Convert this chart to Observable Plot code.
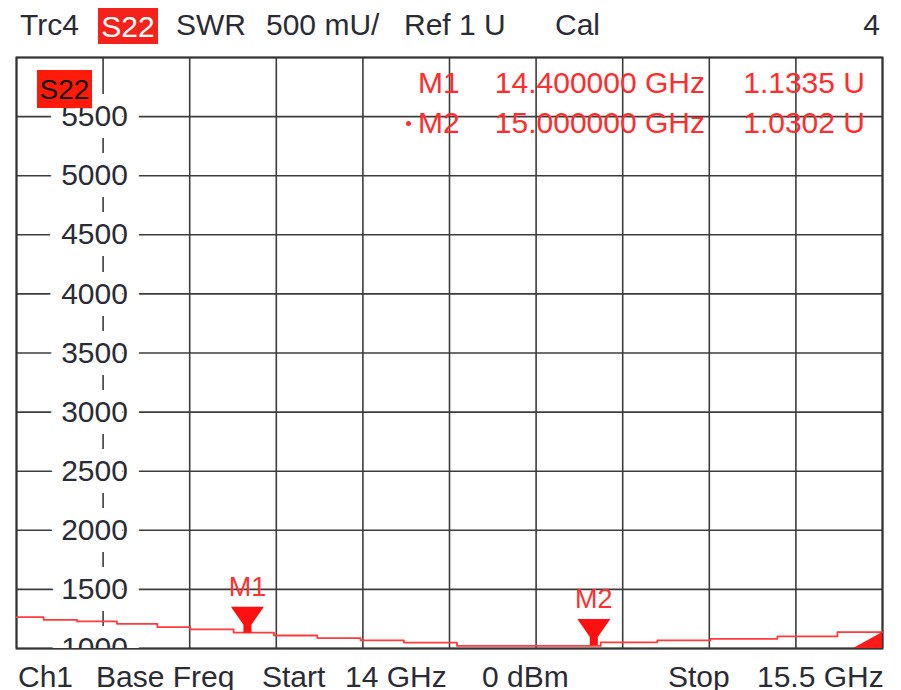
<!DOCTYPE html>
<html><head><meta charset="utf-8">
<script src="https://cdn.jsdelivr.net/npm/d3@7"></script>
<script src="https://cdn.jsdelivr.net/npm/@observablehq/plot@0.6"></script>
<style>
body{margin:0;background:#fff;}
#wrap{position:relative;width:901px;height:690px;overflow:hidden;font-family:"Liberation Sans",Arial,sans-serif;}
#wrap svg{position:absolute;left:0;top:0;}
.t{position:absolute;white-space:pre;line-height:1;font-size:30px;color:#2b2b36;}
.red{color:#ff2d2d;}
.box{position:absolute;line-height:1;white-space:pre;}
</style></head><body><div id="wrap"></div>
<script>
// Trace (stepped sweep), frequency in GHz, SWR in mU
const traceFreqGHz = [14.000, 14.047, 14.105, 14.174, 14.244, 14.301, 14.376, 14.446, 14.521, 14.596, 14.671, 14.763, 15.012, 15.110, 15.202, 15.318, 15.422, 15.500];
const traceSWRmU   = [1265,   1243,   1229,   1209,   1181,   1161,   1135,   1110,   1088,   1068,   1050,   1022,   1052,   1068,   1082,   1102,   1138,   1138];

// Markers
const markerNames = ["M1", "M2"];
const markerFreqGHz = [14.4, 15.0];
const markerSWRU = [1.1335, 1.0302];

// Axis / grid values
const yGridmU = [1000, 1500, 2000, 2500, 3000, 3500, 4000, 4500, 5000, 5500, 6000];
const yTickLabels = [1000, 1500, 2000, 2500, 3000, 3500, 4000, 4500, 5000, 5500];
const xGridGHz = [14.0, 14.15, 14.3, 14.45, 14.6, 14.75, 14.9, 15.05, 15.2, 15.35, 15.5];

// Reference-level indicator at right edge
const refArrowX = [15.45, 15.5];
const refArrowY = [1000, 1136];

// Header / footer texts
const headerTokens = [["Trc4", 20], ["SWR", 176], ["500 mU/", 266], ["Ref 1 U", 404], ["Cal", 555]];
const footerTokens = [["Ch1", 18], ["Base Freq", 96], ["Start", 262], ["14 GHz", 345], ["0 dBm", 482], ["Stop", 668], ["15.5 GHz", 757]];

const trace = traceFreqGHz.map((f, i) => ({f, v: traceSWRmU[i]}));
const markers = markerNames.map((n, i) => ({n, f: markerFreqGHz[i], v: markerSWRU[i] * 1000}));
const refArrow = refArrowX.map((f, i) => ({f, v: refArrowY[i]}));

const markerSymbol = {
  draw(ctx) {
    ctx.moveTo(-16.5, -26);
    ctx.lineTo(16.5, -26);
    ctx.lineTo(4, -8);
    ctx.lineTo(4, 0);
    ctx.lineTo(-4, 0);
    ctx.lineTo(-4, -8);
    ctx.closePath();
  }
};

const chart = Plot.plot({
  width: 901,
  height: 690,
  marginTop: 57,
  marginBottom: 42,
  marginLeft: 16,
  marginRight: 19,
  x: {domain: [14, 15.5], axis: null},
  y: {domain: [1000, 6000], axis: null},
  style: {background: "transparent", fontFamily: "Liberation Sans, Arial, sans-serif"},
  marks: [
    Plot.ruleX(xGridGHz, {stroke: "#3c3c3c", strokeWidth: 1.6}),
    Plot.ruleY(yGridmU, {stroke: "#3c3c3c", strokeWidth: 1.6}),
    Plot.frame({stroke: "#333", strokeWidth: 2}),
    Plot.text(yTickLabels, {
      y: d => d, text: d => String(d), frameAnchor: "left", dx: 78,
      textAnchor: "middle", fontSize: 30, fill: "#2b2b36",
      stroke: "white", strokeWidth: 24, strokeLinejoin: "round", clip: true
    }),
    Plot.line(trace, {x: "f", y: "v", curve: "step-after", stroke: "#ff3b3b", strokeWidth: 1.8}),
    Plot.areaY(refArrow, {x: "f", y1: 1000, y2: "v", fill: "#ff1a1a"}),
    Plot.dot(markers, {x: "f", y: "v", symbol: markerSymbol, fill: "#ff1010", stroke: "none"}),
    Plot.text(markers, {x: "f", y: "v", text: "n", dy: -37, lineAnchor: "bottom", fontSize: 27, fill: "#ff3030"})
  ]
});

const wrap = document.getElementById("wrap");
wrap.appendChild(chart);

function addText(txt, left, baseline, cls, right) {
  const el = document.createElement("div");
  el.className = "t " + (cls || "");
  el.textContent = txt;
  el.style.top = (baseline - 0.8465 * 30) + "px";
  if (right !== undefined) el.style.right = (901 - right) + "px";
  else el.style.left = left + "px";
  wrap.appendChild(el);
  return el;
}

// Header
headerTokens.forEach(([t, x]) => addText(t, x, 35));
addText("4", null, 35, "", 880);
const hbox = document.createElement("div");
hbox.className = "box";
Object.assign(hbox.style, {left: "98px", top: "8px", width: "60px", height: "36px", background: "#f5221b", color: "#fff", fontSize: "30px", textAlign: "center", lineHeight: "37px"});
hbox.textContent = "S22";
wrap.appendChild(hbox);

// Footer
footerTokens.forEach(([t, x]) => addText(t, x, 687));

// In-plot trace label
const pbox = document.createElement("div");
pbox.className = "box";
Object.assign(pbox.style, {left: "37px", top: "70px", width: "55px", height: "38px", background: "#ff1a0a", color: "#111", fontSize: "28px", textAlign: "center", lineHeight: "39px"});
pbox.textContent = "S22";
wrap.appendChild(pbox);

// Marker readouts
const readBase = [93, 133];
markers.forEach((m, i) => {
  addText(m.n, 418, readBase[i], "red");
  addText(m.f.toFixed(6) + " GHz", null, readBase[i], "red", 705);
  addText(markerSWRU[i].toFixed(4) + " U", null, readBase[i], "red", 865);
});
// active marker dot
const dot = document.createElement("div");
Object.assign(dot.style, {position: "absolute", left: "406px", top: "121px", width: "5px", height: "5px", borderRadius: "50%", background: "#ff2d2d"});
wrap.appendChild(dot);
</script>
</body></html>
